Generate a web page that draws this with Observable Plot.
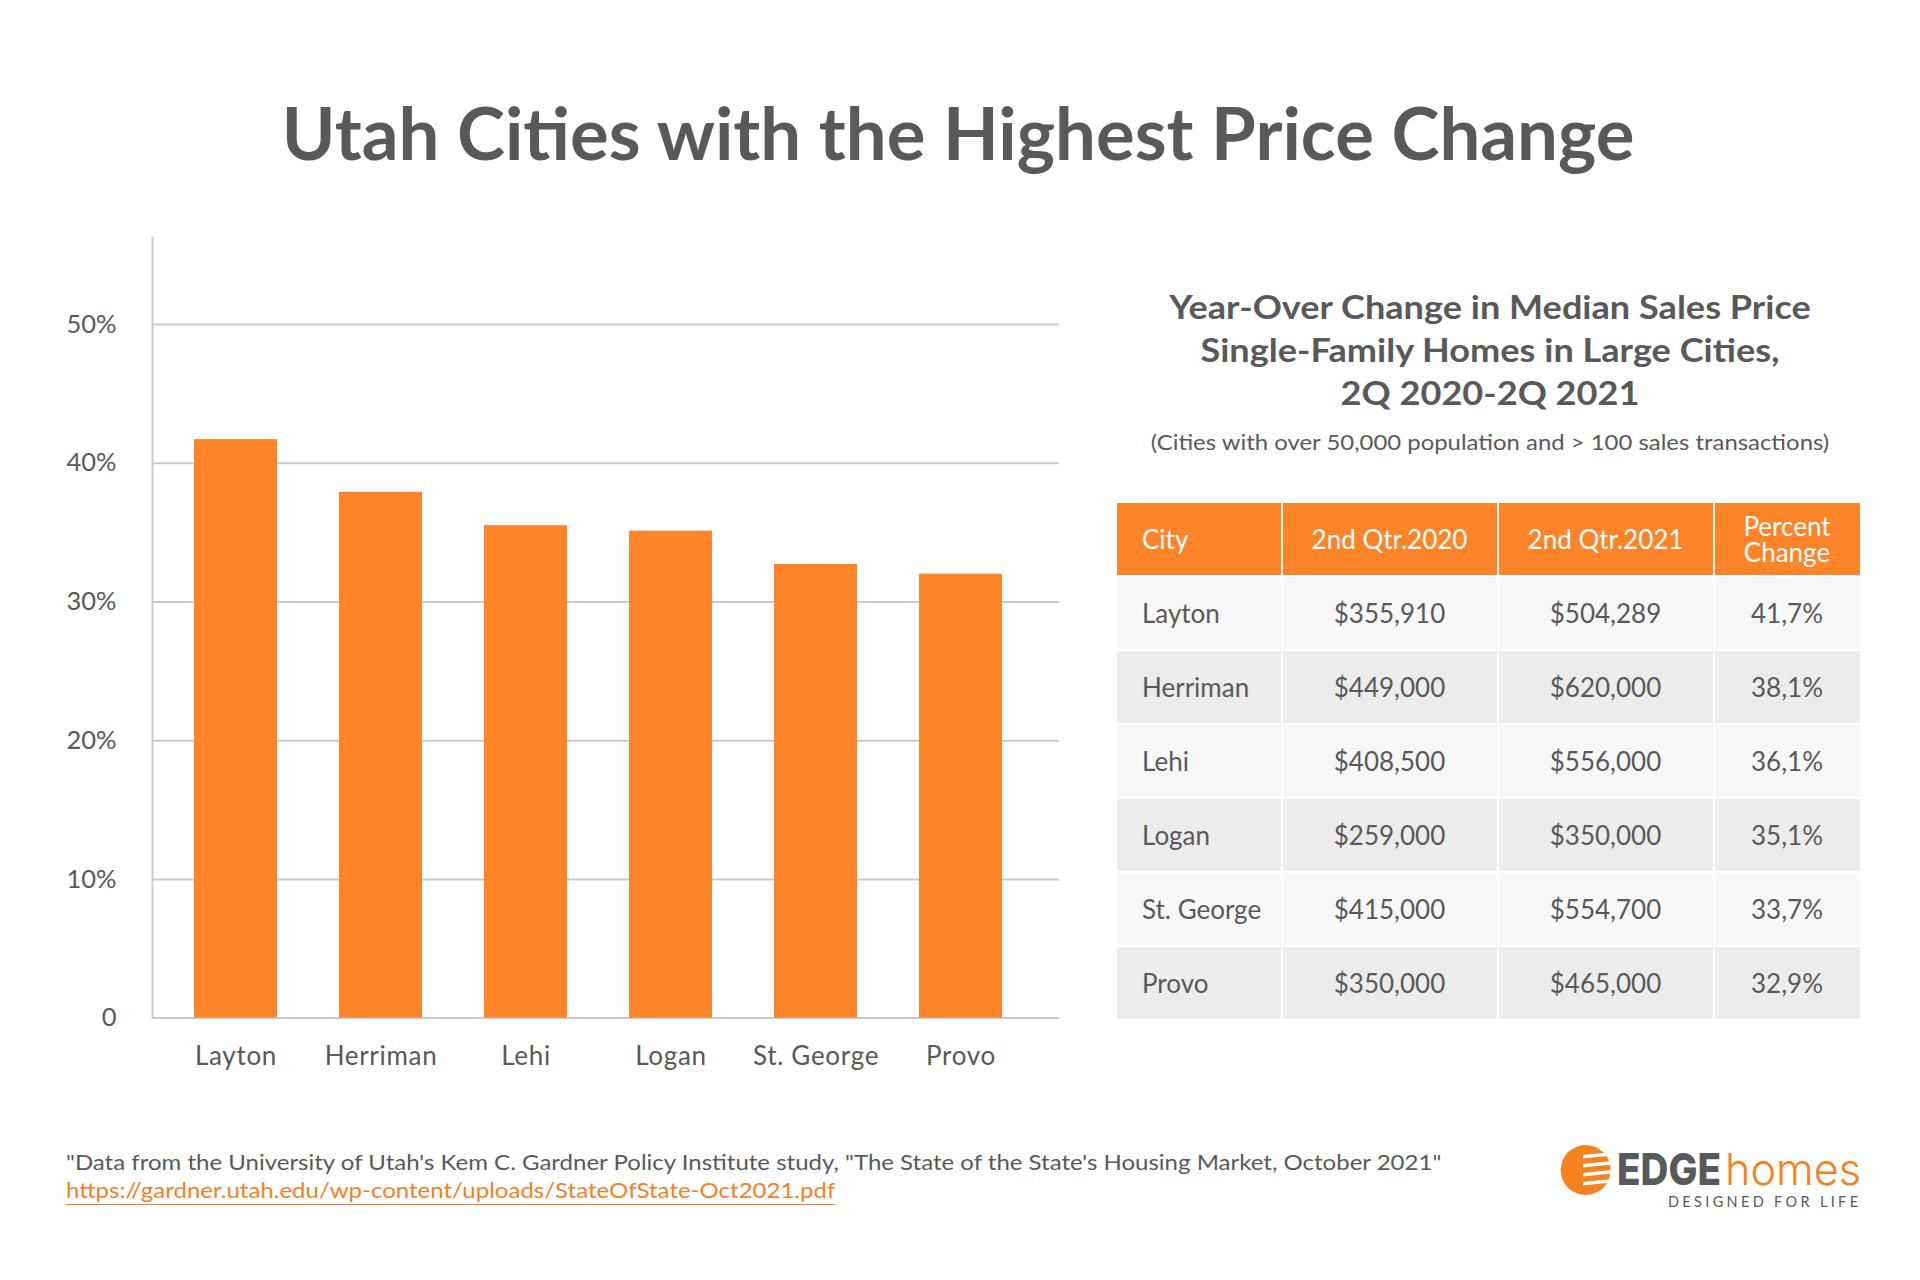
<!DOCTYPE html>
<html>
<head>
<meta charset="utf-8">
<script src="https://cdn.jsdelivr.net/npm/d3@7"></script>
<script src="https://cdn.jsdelivr.net/npm/@observablehq/plot@0.6"></script>
<style>
  html, body { margin: 0; padding: 0; background: #fff; }
  body { width: 1920px; height: 1280px; position: relative; overflow: hidden; font-family: Lato, "Noto Sans", sans-serif; color: #595959; }
  .abs { position: absolute; }
  #title { left: 0; width: 1916px; top: 95px; text-align: center; font-weight: 700; font-size: 72.5px; line-height: 73px; color: #595959; white-space: nowrap; }
  #tableTitle { left: 1090px; width: 800px; top: 285px; text-align: center; font-weight: 700; font-size: 33px; line-height: 43px; color: #595959; transform: scaleX(1.094); transform-origin: 400px 0; white-space: nowrap; }
  #tableNote { left: 1090px; width: 800px; top: 432px; text-align: center; font-size: 20.5px; line-height: 20.5px; color: #595959; white-space: nowrap; transform: scaleX(1.166); transform-origin: 400px 0; }
  #chart { left: 0; top: 200px; }
  #tbl { left: 1115px; top: 500.7px; border-collapse: separate; border-spacing: 2px; background: #fff; font-size: 26px; table-layout: fixed; }
  #tbl th, #tbl td { box-sizing: border-box; height: 72px; padding: 0; vertical-align: middle; text-align: center; }
  #tbl th { background: #FD8429; color: #fff; font-weight: 400; line-height: 26px; }
  #tbl td { color: #595959; }
  #tbl tr:nth-child(odd) td { background: #f7f7f7; }
  #tbl tr:nth-child(even) td { background: #ececec; }
  #tbl .first { text-align: left; padding-left: 25px; }
  #source { left: 66px; top: 1148px; font-size: 21px; line-height: 27.7px; color: #595959; white-space: nowrap; transform: scaleX(1.143); transform-origin: 0 0; }
  #source a { color: #F58025; text-decoration: underline; text-decoration-color: #F58025; text-underline-offset: 6px; text-decoration-thickness: 1px; }
  #logo { left: 1550px; top: 1135px; }
</style>
</head>
<body>
<div id="title" class="abs"></div>
<div id="chart" class="abs"></div>
<div id="tableTitle" class="abs"></div>
<div id="tableNote" class="abs"></div>
<table id="tbl" class="abs"><thead><tr></tr></thead><tbody></tbody></table>
<div id="source" class="abs"></div>
<svg id="logo" class="abs" width="330" height="85" viewBox="0 0 330 85">
  <circle cx="35.7" cy="35" r="25" fill="#F58220"></circle>
  <g fill="#fff">
    <polygon points="33,20 62,17 62,20.5 33,23.5"></polygon>
    <polygon points="33,29 62,26 62,29.5 33,32.5"></polygon>
    <polygon points="33,38 62,35 62,38.5 33,41.5"></polygon>
    <polygon points="33,47 62,44 62,47.5 33,50.5"></polygon>
  </g>
  <text x="67" y="50" font-family="Inter, Roboto, sans-serif" font-weight="800" font-size="44" fill="#58595B" textLength="104" lengthAdjust="spacingAndGlyphs">EDGE</text>
  <text x="175" y="50" font-family="Inter, Roboto, sans-serif" font-weight="300" font-size="44" fill="#F58220" textLength="136" lengthAdjust="spacingAndGlyphs">homes</text>
  <text x="118" y="72" font-family="Lato, sans-serif" font-weight="400" font-size="14.5" fill="#58595B" textLength="190" lengthAdjust="spacing">DESIGNED FOR LIFE</text>
</svg>
<script>
// ---- Data ----
const cities = ["Layton", "Herriman", "Lehi", "Logan", "St. George", "Provo"];
// bar heights as drawn in the chart (percent)
const chartPct = [41.7, 37.9, 35.5, 35.1, 32.7, 32.0];
// table values
const price2020 = [355910, 449000, 408500, 259000, 415000, 350000];
const price2021 = [504289, 620000, 556000, 350000, 554700, 465000];
const tablePct = [41.7, 38.1, 36.1, 35.1, 33.7, 32.9];
const yTicks = [0, 0.1, 0.2, 0.3, 0.4, 0.5];
const tableHeaders = ["City", "2nd Qtr.2020", "2nd Qtr.2021", "Percent<br>Change"];
const columnWidths = [163.5, 214, 214, 145];

const titleText = "Utah Cities with the Highest Price Change";
const tableTitleLines = ["Year-Over Change in Median Sales Price", "Single-Family Homes in Large Cities,", "2Q 2020-2Q 2021"];
const tableNoteText = "(Cities with over 50,000 population and > 100 sales transactions)";
const sourceText = "\"Data from the University of Utah's Kem C. Gardner Policy Institute study, \"The State of the State's Housing Market, October 2021\"";
const sourceUrl = "https://gardner.utah.edu/wp-content/uploads/StateOfState-Oct2021.pdf";

// ---- Texts ----
document.getElementById("title").textContent = titleText;
document.getElementById("tableTitle").innerHTML = tableTitleLines.join("<br>");
document.getElementById("tableNote").textContent = tableNoteText;
document.getElementById("source").innerHTML = sourceText.replace(/&/g, "&amp;") + "<br><a href=\"" + sourceUrl + "\">" + sourceUrl + "</a>";

// ---- Chart ----
const barData = cities.map((c, i) => ({city: c, value: chartPct[i] / 100}));
const chart = Plot.plot({
  width: 1100,
  height: 900,
  marginLeft: 152,
  marginRight: 41,
  marginTop: 37,
  marginBottom: 82.4,
  style: {fontFamily: "Lato, sans-serif", fontSize: "25.5px", color: "#595959", background: "transparent", overflow: "visible"},
  x: {domain: cities, paddingInner: 0.431, paddingOuter: 0.2155, insetLeft: 8.7, insetRight: 23.2, label: null},
  y: {domain: [0, 0.5627], label: null},
  marks: [
    Plot.gridY(yTicks, {stroke: "#cacaca", strokeOpacity: 1, strokeWidth: 2}),
    Plot.frame({anchor: "left", stroke: "#cacaca", strokeWidth: 2}),
    Plot.barY(barData, {x: "city", y: "value", fill: "#FD8429"}),
    Plot.axisY(yTicks, {tickSize: 0, tickPadding: 36, fill: "#595959", fontSize: 25.5, label: null,
      tickFormat: d => d === 0 ? "0" : Math.round(d * 100) + "%"}),
    Plot.axisX({tickSize: 0, tickPadding: 28.5, fill: "#595959", fontSize: 26, label: null})
  ]
});
document.getElementById("chart").appendChild(chart);
d3.select(chart).selectAll('g[aria-label="x-axis tick label"] text').style("letter-spacing", "0.7px");

// ---- Table ----
const headRow = document.querySelector("#tbl thead tr");
tableHeaders.forEach((h, j) => {
  const th = document.createElement("th");
  th.innerHTML = h;
  th.style.width = columnWidths[j] + "px";
  if (j === 0) th.className = "first";
  headRow.appendChild(th);
});
const fmt = d3.format(",");
const tbody = document.querySelector("#tbl tbody");
cities.forEach((c, i) => {
  const tr = document.createElement("tr");
  const vals = [c, "$" + fmt(price2020[i]), "$" + fmt(price2021[i]), tablePct[i].toFixed(1).replace(".", ",") + "%"];
  vals.forEach((v, j) => {
    const td = document.createElement("td");
    td.textContent = v;
    if (j === 0) td.className = "first";
    tr.appendChild(td);
  });
  tbody.appendChild(tr);
});
</script>
</body>
</html>
